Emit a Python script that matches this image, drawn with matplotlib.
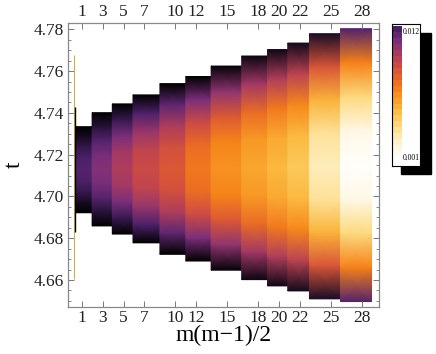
import numpy as np
import matplotlib
matplotlib.use("Agg")
import matplotlib.pyplot as plt
from matplotlib.colors import LinearSegmentedColormap, Normalize
from matplotlib.patches import Rectangle
from matplotlib.ticker import FixedLocator, MultipleLocator

plt.rcParams['font.family'] = ['Liberation Serif', 'DejaVu Serif']

# x positions (m(m-1)/2 labels) and bar edges
x_labels = [1, 3, 5, 7, 10, 12, 15, 18, 20, 22, 25, 28]
bar_edges = [0.4, 1.95, 3.9, 5.9, 8.5, 11.0, 13.45, 16.4, 18.9, 20.85, 22.95, 25.95, 28.95]
bar_top = [4.7334, 4.7401, 4.7443, 4.7486, 4.7540, 4.7574, 4.7624, 4.7672, 4.7703, 4.7734, 4.7779, 4.7803]
bar_bottom = [4.6922, 4.6859, 4.6820, 4.6778, 4.6723, 4.6691, 4.6647, 4.6602, 4.6572, 4.6548, 4.6510, 4.6497]
# value in the middle of each bar and at its top/bottom edge
center_val = [0.0118, 0.0108, 0.0098, 0.0090, 0.0084, 0.0073, 0.0065, 0.0058, 0.0052, 0.0046, 0.0028, 0.0012]
edge_val = [0.0145, 0.0145, 0.0145, 0.0143, 0.0141, 0.0140, 0.0138, 0.0136, 0.0135, 0.0134, 0.0132, 0.0118]
# vertical shading profile: relative position in bar and share of edge value
prof_pos = [-1.0, -0.75, -0.5, -0.25, 0.0, 0.25, 0.5, 0.75, 1.0]
prof_w = [1.0, 0.55, 0.25, 0.06, 0.0, 0.06, 0.25, 0.55, 1.0]

# thin degenerate strip near x=0
line_x = [0.23, 0.30]
line_lo = [4.6604, 4.6830]
line_hi = [4.7676, 4.7428]
line_col = ['#c9b24c', 'black']

# colour scale (value -> colour), Sunset-like
cmap_vals = [0.001, 0.002, 0.003, 0.004, 0.005, 0.006, 0.007, 0.008, 0.009, 0.010, 0.011, 0.012, 0.013, 0.014]
cmap_cols = ['#ffffff', '#fff6e0', '#fde9b0', '#fcd676', '#fbbd45', '#f9a028', '#f58218',
             '#e5622a', '#cc4a45', '#a83a62', '#7a2e7a', '#4a2068', '#221032', '#000000']
vmin, vmax = 0.001, 0.014
cmap = LinearSegmentedColormap.from_list(
    'sunset', [((v - vmin) / (vmax - vmin), c) for v, c in zip(cmap_vals, cmap_cols)])
norm = Normalize(vmin, vmax)

W, H = 436, 354
fig = plt.figure(figsize=(W / 100, H / 100), dpi=100)
ax = fig.add_axes([68 / W, 1 - 307 / H, 311 / W, 284 / H])

pos = np.array(prof_pos)
w = np.array(prof_w)
for i in range(len(x_labels)):
    c = (bar_top[i] + bar_bottom[i]) / 2
    h = (bar_top[i] - bar_bottom[i]) / 2
    t = c + pos * h
    v = center_val[i] + (edge_val[i] - center_val[i]) * w
    X = np.column_stack([np.full_like(t, bar_edges[i]), np.full_like(t, bar_edges[i + 1])])
    Y = np.column_stack([t, t])
    C = np.column_stack([v, v])
    ax.pcolormesh(X, Y, C, cmap=cmap, norm=norm, shading='gouraud')

ax.vlines(line_x[0], line_lo[0], line_hi[0], color=line_col[0], lw=0.8)
ax.vlines(line_x[1], line_lo[1], line_hi[1], color=line_col[1], lw=1.0)

ax.set_xlim(-0.38, 29.67)
ax.set_ylim(4.6471, 4.783)

ax.xaxis.set_major_locator(FixedLocator(x_labels))
ax.set_xticklabels([str(v) for v in x_labels])
ax.yaxis.set_major_locator(MultipleLocator(0.02))
ax.yaxis.set_minor_locator(MultipleLocator(0.005))
ax.yaxis.set_major_formatter(plt.FormatStrFormatter('%.2f'))
ax.tick_params(axis='both', which='both', direction='in', top=True, right=True,
               labeltop=True, labelright=False, color='#777777', labelsize=12.5,
               labelcolor='#222222')
ax.tick_params(which='major', length=4, width=0.7, pad=3)
ax.tick_params(axis='x', which='major', pad=2)
ax.tick_params(which='minor', length=2, width=0.6)
for s in ax.spines.values():
    s.set_color('#888888')
    s.set_linewidth(0.9)

ax.set_xlabel('m(m\u22121)/2', fontsize=17, labelpad=-1)
ax.set_ylabel('t', fontsize=17, labelpad=6)

# legend box with drop shadow
fig.add_artist(Rectangle((401 / W, 1 - 174 / H), 30 / W, 141 / H,
                         transform=fig.transFigure, color='black', zorder=0))
cb = fig.add_axes([391.5 / W, 1 - 166 / H, 28.5 / W, 142 / H], zorder=2)
cb.set_facecolor('white')
levels = np.arange(0.0010, 0.01201, 0.0005)
ybounds = np.linspace(0.02, 0.986, len(levels) + 1)
cb.pcolormesh([0.02, 0.37], ybounds, levels.reshape(-1, 1), cmap=cmap, norm=norm)
cb.set_xlim(0, 1)
cb.set_ylim(0, 1)
cb.set_xticks([])
cb.set_yticks([])
for s in cb.spines.values():
    s.set_color('black')
    s.set_linewidth(0.8)
cb.text(0.40, 0.975, '0.012', fontsize=5.5, va='top', ha='left', transform=cb.transAxes)
cb.text(0.40, 0.03, '0.001', fontsize=5.5, va='bottom', ha='left', transform=cb.transAxes)

fig.savefig('out.png', dpi=100)
